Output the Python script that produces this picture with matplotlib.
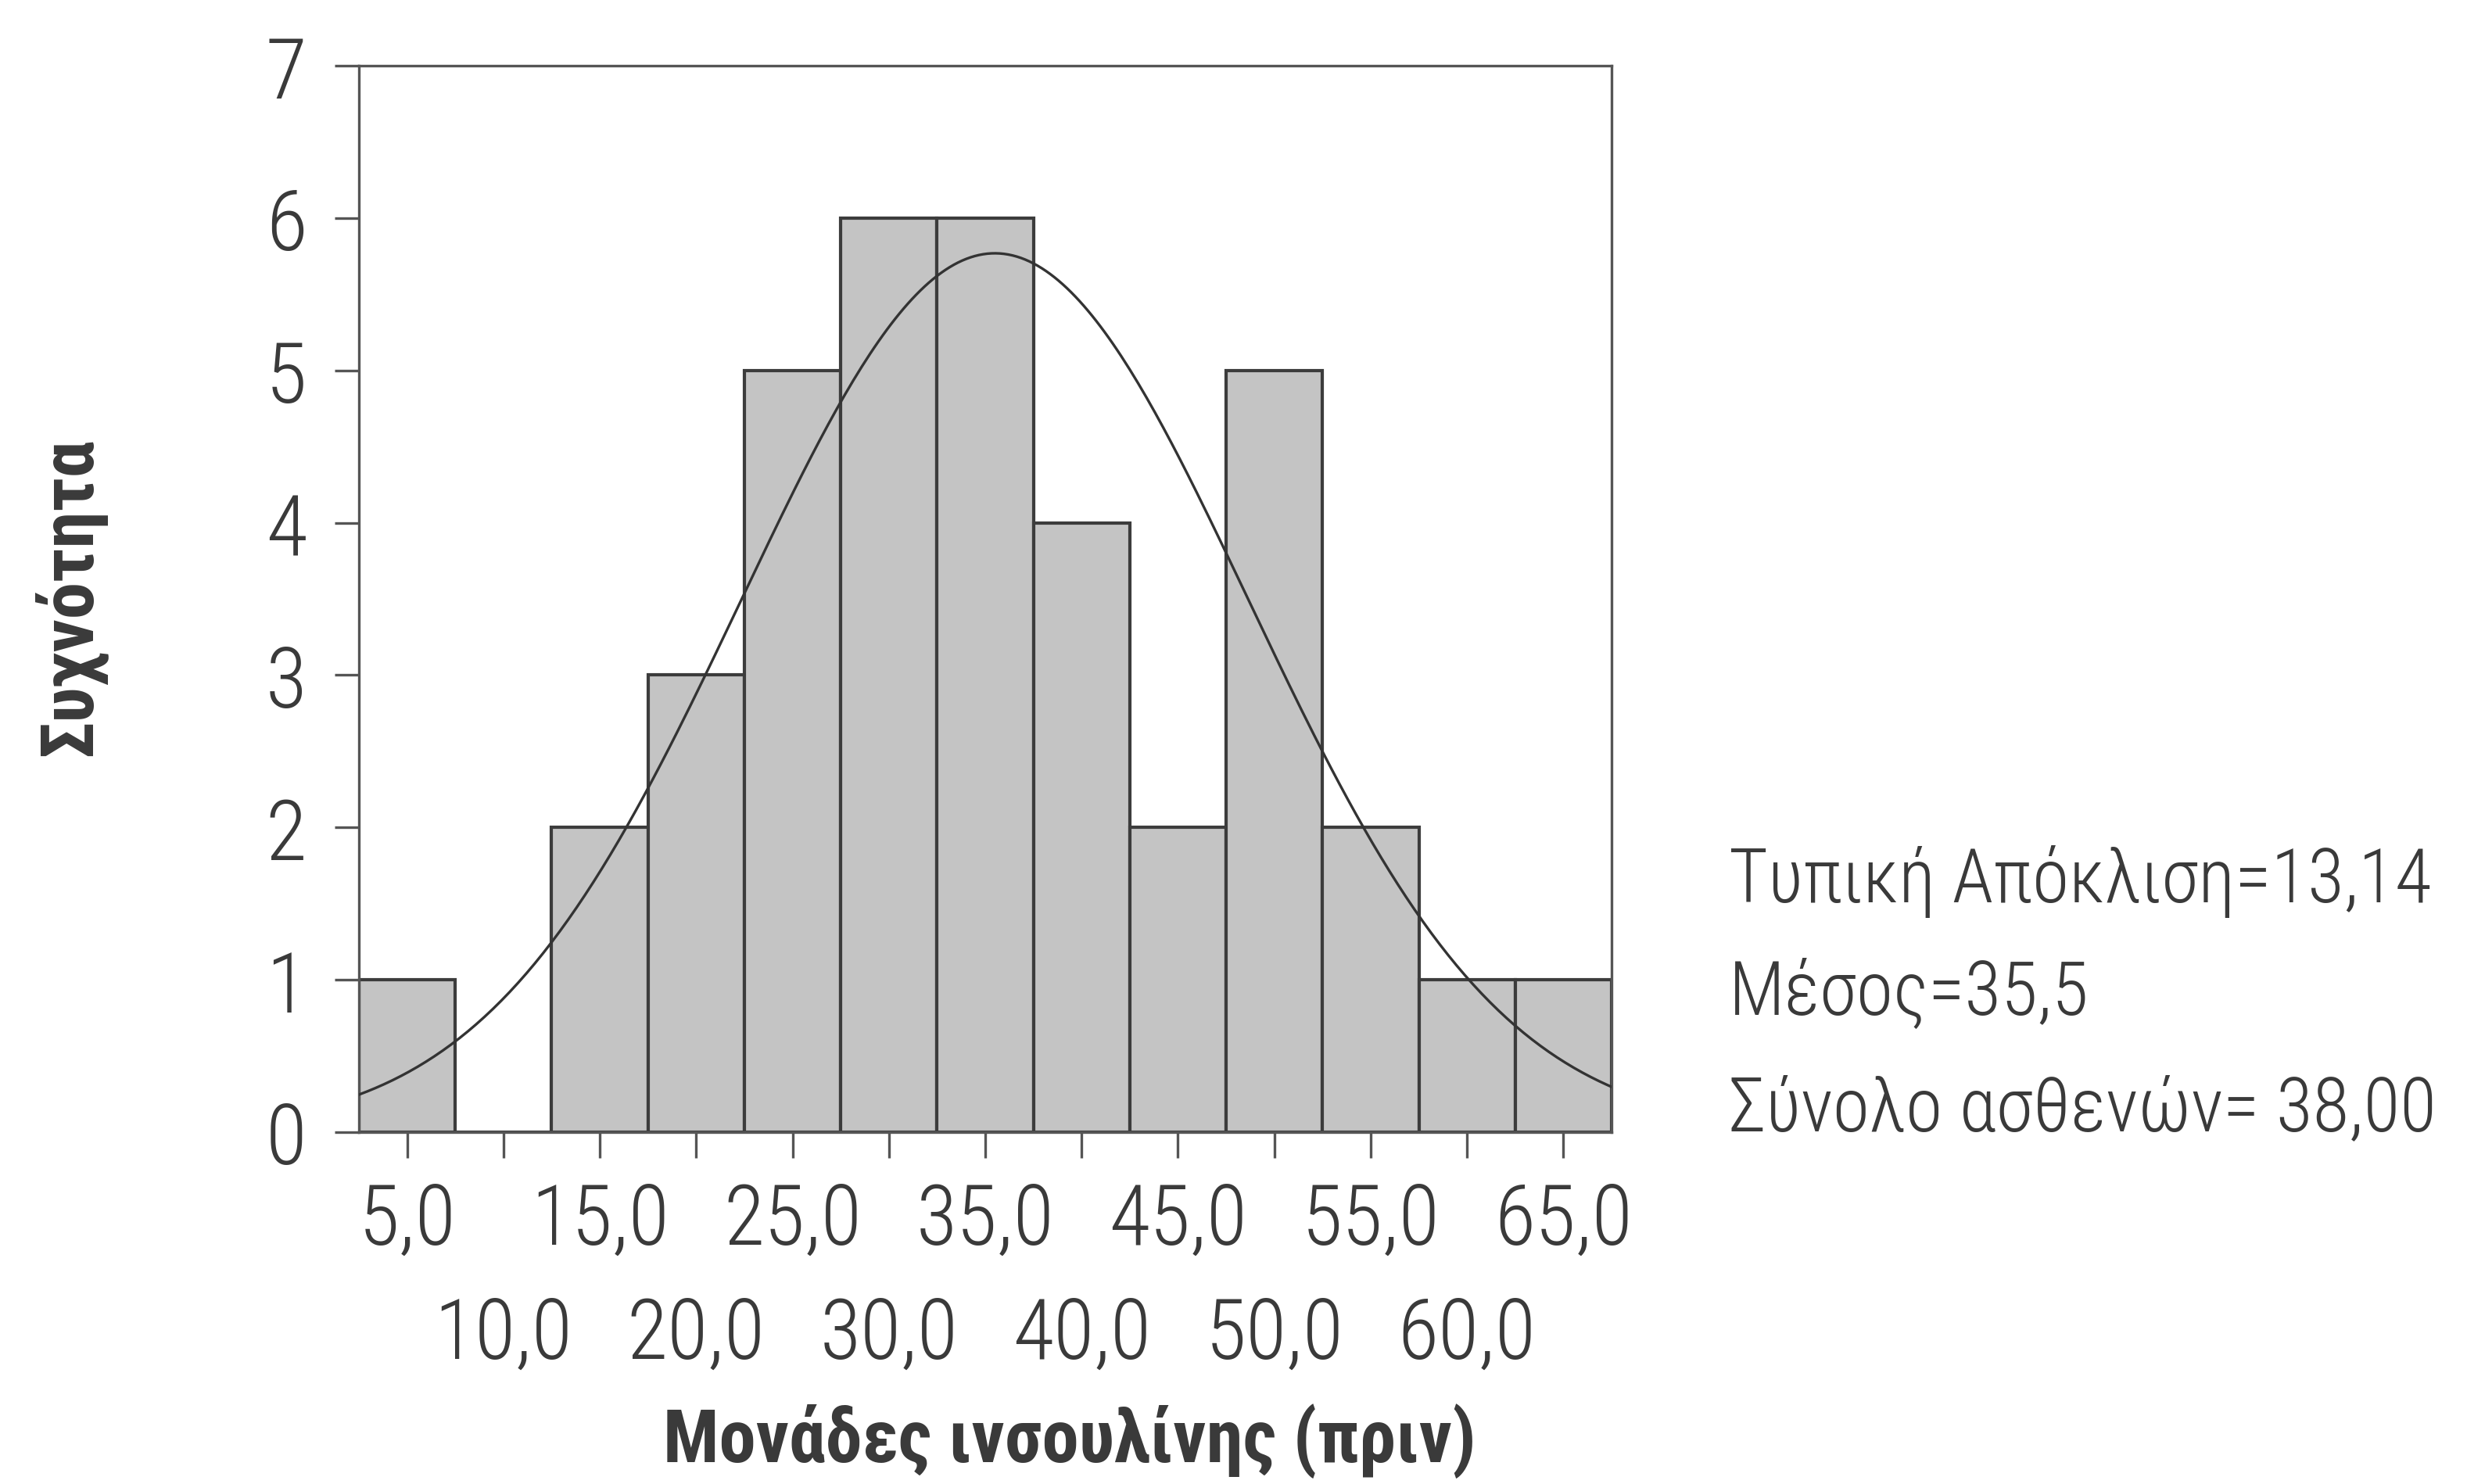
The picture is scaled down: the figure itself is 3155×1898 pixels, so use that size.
import numpy as np
import matplotlib.pyplot as plt
from matplotlib.transforms import blended_transform_factory

# data
bin_centers = [5, 10, 15, 20, 25, 30, 35, 40, 45, 50, 55, 60, 65]
counts = [1, 0, 2, 3, 5, 6, 6, 4, 2, 5, 2, 1, 1]
bin_width = 5
y_ticks = [0, 1, 2, 3, 4, 5, 6, 7]

# summary stats printed beside the chart
mean_val = 35.5
sd_val = 13.14
n_total = 38

xlabel = 'Μονάδες ινσουλίνης (πριν)'
ylabel = 'Συχνότητα'
stats_lines = ['Τυπική Απόκλιση=13,14', 'Μέσος=35,5', 'Σύνολο ασθενών= 38,00']

W, H = 3155, 1899
txt_col = '#3a3a3a'
plt.rcParams['font.family'] = ['Roboto Condensed', 'DejaVu Sans']
plt.rcParams['font.weight'] = 300

fig = plt.figure(figsize=(W / 100, H / 100), dpi=100)
ax = fig.add_axes([459 / W, 1 - 1449 / H, (2061 - 459) / W, (1449 - 85) / H])

ax.bar(bin_centers, counts, width=bin_width, color='#c4c4c4',
       edgecolor='#3c3c3c', linewidth=3.0, zorder=2)

# fitted normal curve (scaled to counts)
xs = np.linspace(2.5, 67.5, 300)
ys = n_total * bin_width / (sd_val * np.sqrt(2 * np.pi)) * np.exp(-0.5 * ((xs - mean_val) / sd_val) ** 2)
ax.plot(xs, ys, color='#333333', linewidth=2.4, zorder=3)

ax.set_xlim(2.5, 67.5)
ax.set_ylim(0, 7)
for s in ax.spines.values():
    s.set_color('#555555')
    s.set_linewidth(2.4)

ax.set_yticks(y_ticks)
ax.set_yticklabels([str(v) for v in y_ticks])
ax.tick_params(axis='y', length=22, width=2.4, color='#555555', pad=26,
               labelsize=78, labelcolor=txt_col)
ax.set_xticks(bin_centers)
ax.set_xticklabels([])
ax.tick_params(axis='x', length=24, width=2.4, color='#555555')

# x tick labels on two staggered rows
tr = blended_transform_factory(ax.transData, fig.transFigure)
for i, v in enumerate(bin_centers):
    lab = f'{v:.1f}'.replace('.', ',')
    yb = 1592 if i % 2 == 0 else 1738
    ax.text(v, 1 - yb / H, lab, transform=tr, ha='center', va='baseline',
            fontsize=77, color=txt_col)

fig.text(1368 / W, 1 - 1870 / H, xlabel, ha='center', va='baseline',
         fontsize=68, fontweight='bold', color=txt_col)
fig.text(89 / W, 1 - 763 / H, ylabel, ha='center', va='center', rotation=90,
         fontsize=68, fontweight='bold', color=txt_col)

for line, yb in zip(stats_lines, [1154, 1298, 1446]):
    fig.text(2211 / W, 1 - yb / H, line, ha='left', va='baseline',
             fontsize=69, color=txt_col)

fig.savefig('out.png', dpi=100, facecolor='white')
